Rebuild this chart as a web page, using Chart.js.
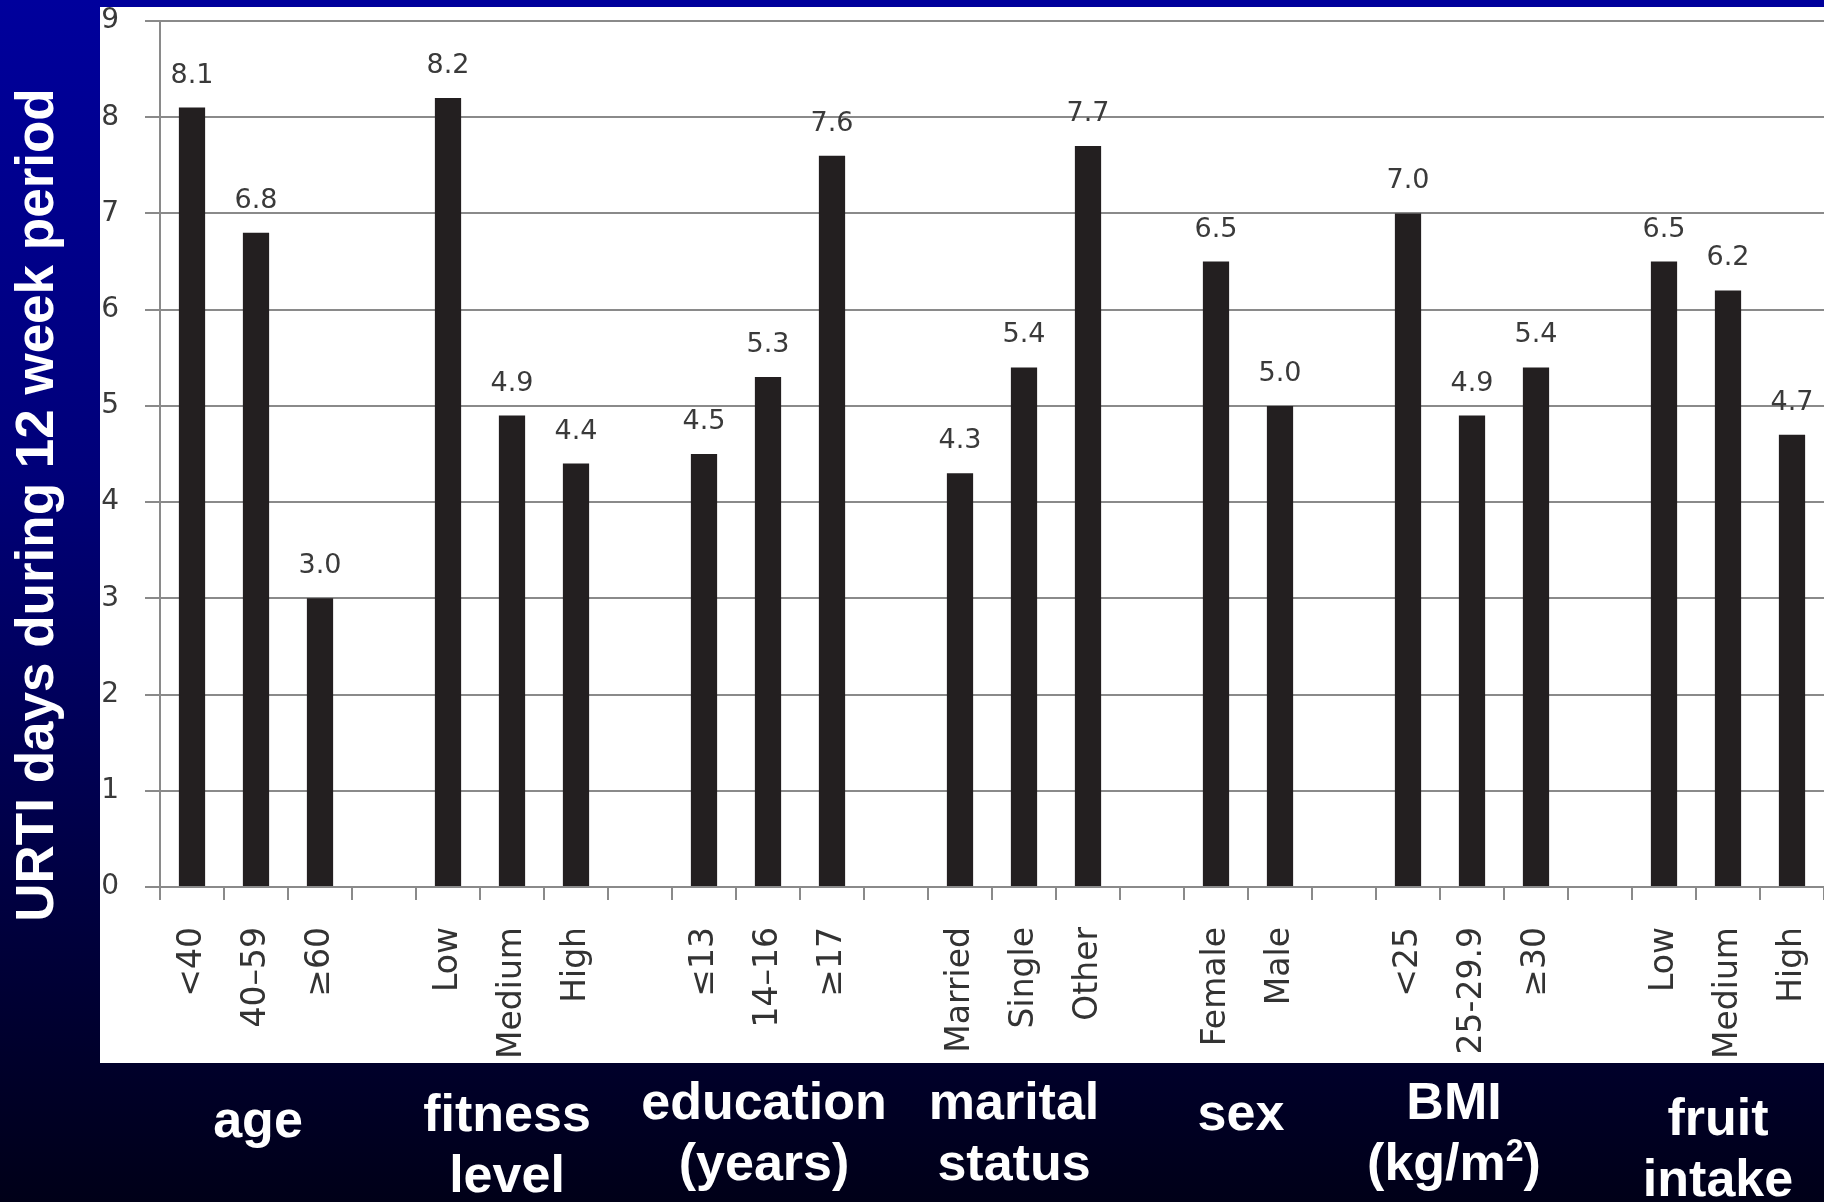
<!DOCTYPE html>
<html lang="en">
<head>
<meta charset="UTF-8" />
<title>URTI days</title>
<script src="https://cdn.jsdelivr.net/npm/chart.js"></script>
<style>
  body { margin: 0; background: #000018; overflow: hidden; }
  #wrap { width: 1824px; height: 1202px; }
</style>
</head>
<body>
<div id="wrap"><canvas id="urtiChart"></canvas></div>
<script>
// blank categories leave a gap between the groups
const categories = [
  "<40", "40\u201359", "\u226560", "",
  "Low", "Medium", "High", "",
  "\u226413", "14\u201316", "\u226517", "",
  "Married", "Single", "Other", "",
  "Female", "Male", "",
  "<25", "25-29.9", "\u226530", "",
  "Low", "Medium", "High"
];
const urtiDays = [
  8.1, 6.8, 3.0, null,
  8.2, 4.9, 4.4, null,
  4.5, 5.3, 7.6, null,
  4.3, 5.4, 7.7, null,
  6.5, 5.0, null,
  7.0, 4.9, 5.4, null,
  6.5, 6.2, 4.7
];
const yTicks = [0, 1, 2, 3, 4, 5, 6, 7, 8, 9];
const groupLabels = [
  ["age"], ["fitness", "level"], ["education", "(years)"], ["marital", "status"],
  ["sex"], ["BMI", "(kg/m\u00b2)"], ["fruit", "intake"]
];
const groupSpans = [[0, 2], [4, 6], [8, 10], [12, 14], [16, 17], [19, 21], [23, 25]];
const axisTitle = "URTI days during 12 week period";

const PANEL = { left: 100, top: 7, bottom: 1063 };
// group captions sit as loose text boxes under the axis: x nudge and first baseline
const captionPos = [[2, 1137], [-5, 1131], [-4, 1119], [-10, 1119], [-7, 1130], [-18, 1119], [-10, 1135]];

function navy(ctx, h) {
  const g = ctx.createLinearGradient(0, 0, 0, h);
  g.addColorStop(0, "#00009c");
  g.addColorStop(0.4, "#000078");
  g.addColorStop(0.75, "#000040");
  g.addColorStop(1, "#000018");
  return g;
}

// centred caption line; a "²" is set as a raised, smaller 2
function captionLine(ctx, text, cx, y, size) {
  const big = `bold ${size}px "Liberation Sans"`;
  const small = `bold ${Math.round(size * 0.62)}px "Liberation Sans"`;
  const parts = text.split("\u00b2");
  ctx.textAlign = "left";
  ctx.font = big;
  const widths = parts.map(p => ctx.measureText(p).width);
  ctx.font = small;
  const supW = ctx.measureText("2").width;
  const total = widths.reduce((s, w) => s + w, 0) + supW * (parts.length - 1);
  let x = cx - total / 2;
  parts.forEach((p, i) => {
    ctx.font = big;
    ctx.fillText(p, x, y);
    x += widths[i];
    if (i < parts.length - 1) {
      ctx.font = small;
      ctx.fillText("2", x, y - size * 0.36);
      x += supW;
    }
  });
}

const slide = {
  id: "slide",
  beforeDraw(chart) {
    const { ctx, width, height } = chart;
    ctx.save();
    ctx.fillStyle = navy(ctx, height);
    ctx.fillRect(0, 0, width, height);
    ctx.fillStyle = "#ffffff";
    ctx.fillRect(PANEL.left, PANEL.top, width - PANEL.left, PANEL.bottom - PANEL.top);
    ctx.restore();
  },
  afterDatasetsDraw(chart) {
    const { ctx } = chart;
    const meta = chart.getDatasetMeta(0);
    ctx.save();
    ctx.font = '27px "DejaVu Sans"';
    ctx.fillStyle = "#3a3a3a";
    ctx.textAlign = "center";
    ctx.textBaseline = "alphabetic";
    meta.data.forEach((bar, i) => {
      const v = urtiDays[i];
      if (v == null) return;
      ctx.fillText(v.toFixed(1), bar.x, bar.y - 25);
    });
    ctx.restore();
  },
  afterDraw(chart) {
    const { ctx, width, height } = chart;
    const x = chart.scales.x;
    ctx.save();
    // strip under the white panel cuts off long tick labels
    ctx.fillStyle = navy(ctx, height);
    ctx.fillRect(0, PANEL.bottom, width, height - PANEL.bottom);

    ctx.fillStyle = "#ffffff";
    ctx.font = 'bold 53px "Liberation Sans"';
    ctx.textAlign = "center";
    ctx.textBaseline = "middle";
    ctx.save();
    ctx.translate(38, 505);
    ctx.rotate(-Math.PI / 2);
    ctx.fillText(axisTitle, 0, 0);
    ctx.restore();

    ctx.textBaseline = "alphabetic";
    groupLabels.forEach((lines, k) => {
      const [a, b] = groupSpans[k];
      const [dx, base] = captionPos[k];
      const cx = (x.getPixelForValue(a) + x.getPixelForValue(b)) / 2 + dx;
      lines.forEach((t, j) => captionLine(ctx, t, cx, base + j * 61, 52));
    });
    ctx.restore();
  }
};

new Chart(document.getElementById("urtiChart"), {
  type: "bar",
  data: {
    labels: categories,
    datasets: [{
      data: urtiDays,
      backgroundColor: "#231f20",
      barPercentage: 0.41,
      categoryPercentage: 1
    }]
  },
  options: {
    responsive: true,
    maintainAspectRatio: false,
    animation: false,
    layout: { padding: { top: 21, left: 0, right: 0, bottom: 0 } },
    plugins: { legend: { display: false }, tooltip: { enabled: false } },
    scales: {
      x: {
        offset: true,
        grid: {
          offset: true,
          drawOnChartArea: false,
          drawTicks: true,
          tickLength: 13,
          tickColor: "#8a8a8a",
          lineWidth: 2
        },
        border: { color: "#8a8a8a", width: 2 },
        ticks: {
          autoSkip: false,
          minRotation: 90,
          maxRotation: 90,
          padding: 27,
          color: "#333333",
          font: { family: "DejaVu Sans", size: 33 }
        },
        afterFit(scale) {
          scale.height = 1202 - 887;
          scale.paddingLeft = 0;
          scale.paddingRight = 0;
        }
      },
      y: {
        min: 0,
        max: 9,
        afterBuildTicks(scale) {
          scale.ticks = yTicks.map(v => ({ value: v }));
        },
        grid: {
          color: "#8a8a8a",
          lineWidth: 2,
          tickLength: 15,
          tickColor: "#8a8a8a"
        },
        border: { color: "#8a8a8a", width: 2 },
        ticks: {
          padding: 26,
          color: "#3a3a3a",
          font: { family: "DejaVu Sans", size: 28 }
        },
        afterFit(scale) {
          scale.width = 160;
          scale.paddingTop = 0;
          scale.paddingBottom = 0;
        }
      }
    }
  },
  plugins: [slide]
});
</script>
</body>
</html>
